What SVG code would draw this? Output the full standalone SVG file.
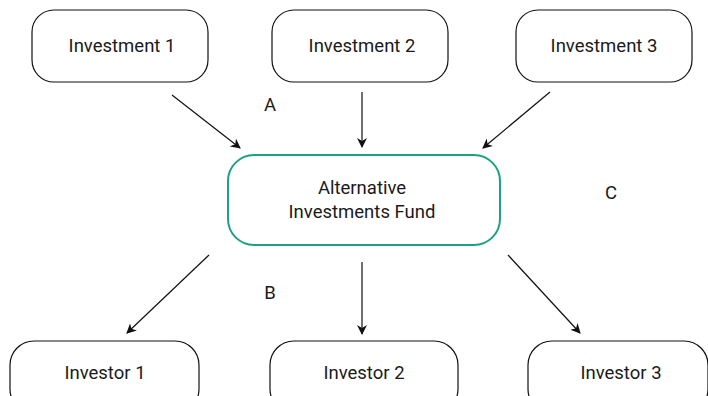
<svg xmlns="http://www.w3.org/2000/svg" width="708" height="396" viewBox="0 0 708 396">
<defs>
<style>
.box{fill:#fff;stroke:#111;stroke-width:1.2}
.fund{fill:#fff;stroke:#1aa37f;stroke-width:2}
.t{font-family:Roboto,"Liberation Sans",sans-serif;font-size:18.5px;fill:#1a1a1a;text-anchor:middle}
.c{stroke:#111;stroke-width:1.2;fill:none;marker-end:url(#ah)}
</style>
<marker id="ah" viewBox="0 0 10 10" refX="9" refY="5" markerWidth="10" markerHeight="10" markerUnits="userSpaceOnUse" orient="auto">
<path d="M0,0 L10,5 L0,10 L3,5 z" fill="#111"/>
</marker>
</defs>
<g id="investment1"><rect class="box" x="32" y="10" width="176" height="72" rx="22"/><text class="t" x="122" y="52">Investment 1</text></g>
<g id="investment2"><rect class="box" x="272" y="10" width="176" height="72" rx="22"/><text class="t" x="362" y="52">Investment 2</text></g>
<g id="investment3"><rect class="box" x="516" y="10" width="176" height="72" rx="22"/><text class="t" x="604" y="52">Investment 3</text></g>
<g id="fund"><rect class="fund" x="228" y="155" width="272" height="90" rx="26"/><text class="t" x="362" y="194">Alternative</text><text class="t" x="362" y="218">Investments Fund</text></g>
<g id="investor1"><rect class="box" x="10" y="341" width="189" height="72" rx="24"/><text class="t" x="105" y="379">Investor 1</text></g>
<g id="investor2"><rect class="box" x="270" y="341" width="188" height="72" rx="24"/><text class="t" x="364" y="379">Investor 2</text></g>
<g id="investor3"><rect class="box" x="528" y="341" width="180" height="72" rx="24"/><text class="t" x="621" y="379">Investor 3</text></g>
<g id="connectors">
<line class="c" x1="172" y1="95" x2="240" y2="148"/>
<line class="c" x1="362" y1="92" x2="362" y2="147"/>
<line class="c" x1="550" y1="92" x2="483" y2="148"/>
<line class="c" x1="209" y1="255" x2="127" y2="333"/>
<line class="c" x1="362" y1="262" x2="362" y2="334"/>
<line class="c" x1="508" y1="255" x2="580" y2="333"/>
</g>
<text class="t" x="270" y="111">A</text>
<text class="t" x="270" y="299">B</text>
<text class="t" x="611" y="199">C</text>
</svg>
